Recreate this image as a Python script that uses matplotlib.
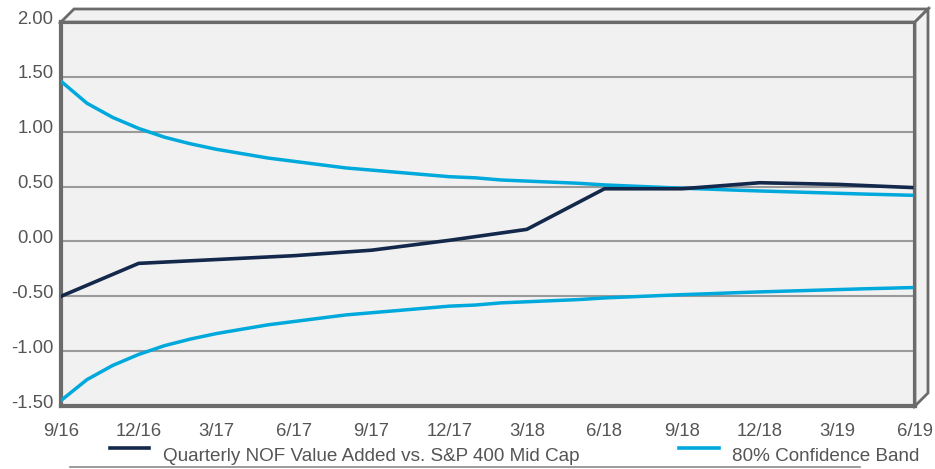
import numpy as np
import matplotlib
matplotlib.use("Agg")
import matplotlib.pyplot as plt
import matplotlib.transforms as mtransforms
from matplotlib.lines import Line2D
from matplotlib.patches import Polygon
from matplotlib.ticker import FuncFormatter

plt.rcParams['font.family'] = ['Liberation Sans', 'DejaVu Sans']
plt.rcParams['axes.unicode_minus'] = False

# quarter-end labels and the quarterly NOF value added series
quarters = ['9/16', '12/16', '3/17', '6/17', '9/17', '12/17',
            '3/18', '6/18', '9/18', '12/18', '3/19', '6/19']
nof_value = [-0.50, -0.20, -0.165, -0.13, -0.08, 0.01,
             0.11, 0.48, 0.48, 0.535, 0.52, 0.49]

# monthly 80% confidence band (9/16 .. 6/19)
band_upper = [1.46, 1.26, 1.13, 1.03, 0.95, 0.89, 0.84, 0.80, 0.76, 0.73,
              0.70, 0.67, 0.65, 0.63, 0.61, 0.59, 0.58, 0.56, 0.55, 0.54,
              0.53, 0.515, 0.505, 0.495, 0.485, 0.477, 0.468, 0.46, 0.453,
              0.446, 0.439, 0.432, 0.426, 0.42]
band_lower = [-1.45, -1.26, -1.13, -1.03, -0.95, -0.89, -0.84, -0.80, -0.76,
              -0.73, -0.70, -0.67, -0.65, -0.63, -0.61, -0.59, -0.58, -0.56,
              -0.55, -0.54, -0.53, -0.515, -0.505, -0.495, -0.485, -0.477,
              -0.468, -0.46, -0.453, -0.446, -0.439, -0.432, -0.426, -0.42]

series_names = ['Quarterly NOF Value Added vs. S&P 400 Mid Cap', '80% Confidence Band']
dark = '#14284b'
cyan = '#00a9dc'
frame = '#6b6b6b'
txt = '#555555'

W, H = 935, 469
fig = plt.figure(figsize=(W / 100, H / 100), dpi=100)

# front face of the box in pixels
x0, x1, y0, y1 = 61, 915, 22, 406
d = 13
ax = fig.add_axes([x0 / W, 1 - y1 / H, (x1 - x0) / W, (y1 - y0) / H])
ax.set_facecolor('#f1f1f1')

def fx(px):
    return px / W

def fy(py):
    return 1 - py / H

# top and right faces of the 3D box
top = Polygon([(fx(x0), fy(y0)), (fx(x0 + d), fy(y0 - d)), (fx(x1 + d), fy(y0 - d)), (fx(x1), fy(y0))],
              closed=True, transform=fig.transFigure, facecolor='#f1f1f1', edgecolor=frame, lw=2, zorder=0)
side = Polygon([(fx(x1), fy(y0)), (fx(x1 + d), fy(y0 - d)), (fx(x1 + d), fy(y1 - d)), (fx(x1), fy(y1))],
               closed=True, transform=fig.transFigure, facecolor='#f1f1f1', edgecolor=frame, lw=2, zorder=0)
fig.patches.extend([top, side])

months = np.arange(len(band_upper))
qx = months[::3]

ax.plot(months, band_upper, color=cyan, lw=2.5, zorder=3, solid_joinstyle='round')
ax.plot(months, band_lower, color=cyan, lw=2.5, zorder=3, solid_joinstyle='round')
ax.plot(qx, nof_value, color=dark, lw=2.6, zorder=4)

ax.set_xlim(0, months[-1])
ax.set_ylim(-1.5, 2.0)
ax.set_yticks(np.arange(-1.5, 2.01, 0.5))
ax.yaxis.set_major_formatter(FuncFormatter(lambda v, p: f'{v:.2f}'))
ax.set_xticks(qx)
ax.set_xticklabels(quarters)
ax.grid(axis='y', color='#9a9a9a', lw=1.5, zorder=1)
ax.set_axisbelow(True)
ax.tick_params(length=0, labelsize=13.3, colors=txt)
ax.tick_params(axis='y', pad=5.5)
ax.tick_params(axis='x', pad=12.5)
for s in ax.spines.values():
    s.set_color(frame)
    s.set_linewidth(3)

# y labels sit slightly above their gridlines in the original
shift = mtransforms.ScaledTranslation(0, 5 / 100, fig.dpi_scale_trans)
for lab in ax.get_yticklabels():
    lab.set_transform(lab.get_transform() + shift)

# legend drawn below the chart
ly = fy(448)
fig.add_artist(Line2D([fx(110), fx(149)], [ly, ly], color=dark, lw=2.6, transform=fig.transFigure))
fig.text(fx(163), fy(456), series_names[0], fontsize=13.6, color=txt, va='center')
fig.add_artist(Line2D([fx(679), fx(719)], [ly, ly], color=cyan, lw=2.6, transform=fig.transFigure))
fig.text(fx(732), fy(456), series_names[1], fontsize=13.6, color=txt, va='center')
fig.add_artist(Line2D([fx(70), fx(860)], [fy(467), fy(467)], color='#8a8a8a', lw=1.2, transform=fig.transFigure))

fig.savefig('out.png', dpi=100, facecolor='white')
